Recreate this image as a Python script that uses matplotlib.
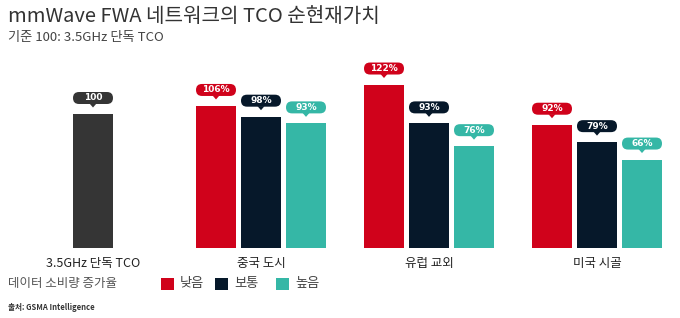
import numpy as np
import matplotlib
matplotlib.use("Agg")
import matplotlib.pyplot as plt
import matplotlib.transforms as mtransforms
from matplotlib.patches import FancyBboxPatch, Polygon, Rectangle

plt.rcParams['font.family'] = ['Noto Sans CJK KR', 'DejaVu Sans']

# 데이터
base_label = "3.5GHz 단독 TCO"
base_value = 100
groups = ["중국 도시", "유럽 교외", "미국 시골"]
series = ["낮음", "보통", "높음"]
low = [106, 122, 92]
mid = [98, 93, 79]
high = [93, 76, 66]

colors = ["#d0021b", "#06182a", "#35b7a6"]
gray = "#353535"

W, H = 680, 318
fig = plt.figure(figsize=(W / 100, H / 100), dpi=100)
# 축: 기준선 y=248px, 위쪽 70px
ax = fig.add_axes([0, (H - 248) / H, 1, (248 - 70) / H])
px_per_unit = 1.34
ax.set_ylim(0, (248 - 70) / px_per_unit)
step = 168  # 그룹 간격 (px)
ax.set_xlim(-93 / step, (W - 93) / step)
ax.axis("off")

bw = 40 / step
off = 45 / step


def tag(x, y, text, color):
    tr = fig.dpi_scale_trans + mtransforms.ScaledTranslation(x, y, ax.transData)
    box = FancyBboxPatch((-0.20, 0.10), 0.40, 0.12,
                         boxstyle="round,pad=0,rounding_size=0.06",
                         fc=color, ec="none", transform=tr, clip_on=False)
    ax.add_patch(box)
    tri = Polygon([(-0.035, 0.105), (0.035, 0.105), (0, 0.065)],
                  closed=True, fc=color, ec="none", transform=tr, clip_on=False)
    ax.add_patch(tri)
    ax.text(0, 0.16, text, transform=tr, ha="center", va="center",
            color="white", fontsize=6.5, fontweight="bold", clip_on=False,
            family="DejaVu Sans")


# 기준 막대
ax.bar(0, base_value, width=bw, color=gray)
tag(0, base_value, f"{base_value}", gray)

xs = np.arange(1, len(groups) + 1)
for j, vals in enumerate([low, mid, high]):
    xpos = xs + (j - 1) * off
    ax.bar(xpos, vals, width=bw, color=colors[j])
    for x, v in zip(xpos, vals):
        tag(x, v, f"{v}%", colors[j])


def ftxt(xp, yp, s, **kw):
    fig.text(xp / W, 1 - yp / H, s, **kw)


ftxt(8, 16, "mmWave FWA 네트워크의 TCO 순현재가치", fontsize=14.5, color="#333333",
     va="center", ha="left")
ftxt(8, 37, "기준 100: 3.5GHz 단독 TCO", fontsize=9.5, color="#444444",
     va="center", ha="left")

# 범주 라벨
for x, lab in zip([0] + list(xs), [base_label] + groups):
    ax.text(x, -15 / px_per_unit, lab, ha="center", va="center",
            fontsize=9, color="#222222", clip_on=False)

# 범례
ftxt(8, 284, "데이터 소비량 증가율", fontsize=9, color="#555555",
     va="center", ha="left")
lx = [161, 215, 276]
for x0, c, s in zip(lx, colors, series):
    fig.patches.append(Rectangle((x0 / W, 1 - 290 / H), 13 / W, 12 / H,
                                 transform=fig.transFigure, fc=c, ec="none"))
    ftxt(x0 + 19, 284, s, fontsize=9.5, color="#444444", va="center", ha="left")

ftxt(8, 308, "출처: GSMA Intelligence", fontsize=5.5, color="#333333",
     va="center", ha="left", fontweight="bold")

fig.savefig("out.png", dpi=100)
